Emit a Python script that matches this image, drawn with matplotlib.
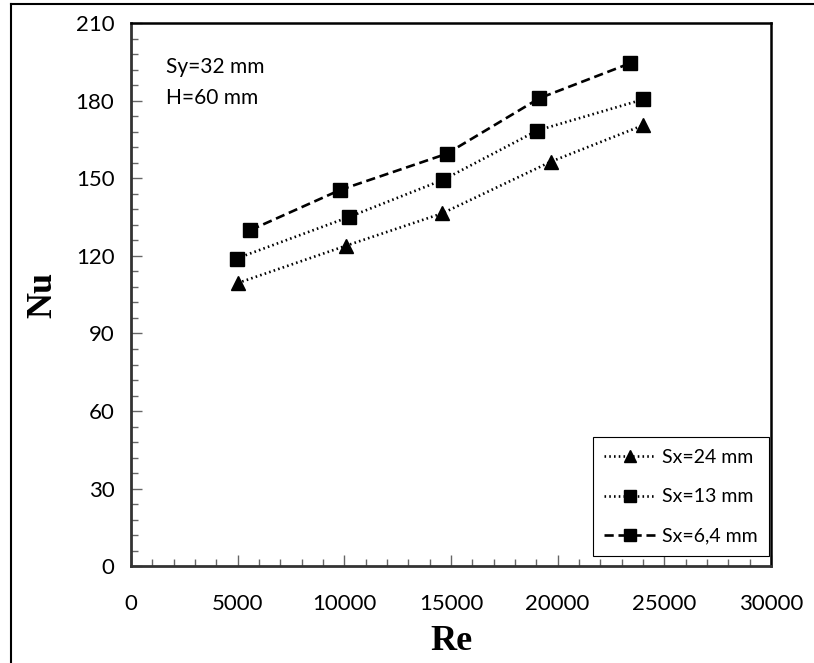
import matplotlib
matplotlib.use("Agg")
import matplotlib.pyplot as plt
from matplotlib.lines import Line2D
from matplotlib.ticker import MultipleLocator

re_24 = [5000, 10100, 14600, 19700, 24000]
nu_24 = [109.5, 124, 136.5, 156.5, 170.5]
re_13 = [4950, 10200, 14650, 19050, 24000]
nu_13 = [119, 135, 149.5, 168.5, 180.5]
re_64 = [5600, 9800, 14800, 19150, 23400]
nu_64 = [130, 145.5, 159.5, 181, 194.5]
labels = ['Sx=24 mm', 'Sx=13 mm', 'Sx=6,4 mm']

plt.rcParams['font.family'] = ['Lato', 'DejaVu Sans']

fig = plt.figure(figsize=(8.14, 6.63), dpi=100)
ax = fig.add_axes([0.161, 0.146, 0.786, 0.819])

ax.plot(re_24, nu_24, color='black', linestyle=(0, (0.6, 1.2)), linewidth=1.9,
        marker='^', markersize=10, label=labels[0])
ax.plot(re_13, nu_13, color='black', linestyle=(0, (0.6, 1.2)), linewidth=1.9,
        marker='s', markersize=10, label=labels[1])
ax.plot(re_64, nu_64, color='black', linestyle=(0, (3.5, 1.8)), linewidth=1.9,
        marker='s', markersize=10, label=labels[2])

ax.set_xlim(0, 30000)
ax.set_ylim(0, 210)
ax.xaxis.set_major_locator(MultipleLocator(5000))
ax.xaxis.set_minor_locator(MultipleLocator(1000))
ax.yaxis.set_major_locator(MultipleLocator(30))
ax.yaxis.set_minor_locator(MultipleLocator(6))
ax.tick_params(which='both', direction='in', color='#666666', labelsize=16)
ax.tick_params(which='major', length=8, width=1)
ax.tick_params(which='minor', length=5, width=1)
ax.tick_params(axis='y', pad=12)
ax.tick_params(axis='x', pad=20)

for s in ['left', 'bottom']:
    ax.spines[s].set_color('#333333')
    ax.spines[s].set_linewidth(2)
for s in ['top', 'right']:
    ax.spines[s].set_color('black')
    ax.spines[s].set_linewidth(1.8)

ax.set_xlabel('Re', family='Liberation Serif', fontweight='bold', fontsize=26, labelpad=8)
ax.set_ylabel('Nu', family='Liberation Serif', fontweight='bold', fontsize=26, labelpad=12)

ax.text(0.055, 0.92, 'Sy=32 mm', transform=ax.transAxes, fontsize=15, va='center')
ax.text(0.055, 0.862, 'H=60 mm', transform=ax.transAxes, fontsize=15, va='center')

leg = ax.legend(loc='lower right', bbox_to_anchor=(0.997, 0.018), fontsize=14,
                handlelength=2.6, handletextpad=0.35, labelspacing=1.15, borderpad=0.6,
                fancybox=False, framealpha=1, edgecolor='black', markerscale=0.85,
                borderaxespad=0)
leg.get_frame().set_linewidth(0.8)

# outer frame round the picture
fig.add_artist(Line2D([11 / 814, 1], [1 - 4 / 663, 1 - 4 / 663], color='black', lw=1.5))
fig.add_artist(Line2D([11 / 814, 11 / 814], [0, 1 - 4 / 663], color='black', lw=1.5))

fig.savefig('out.png', dpi=100)
